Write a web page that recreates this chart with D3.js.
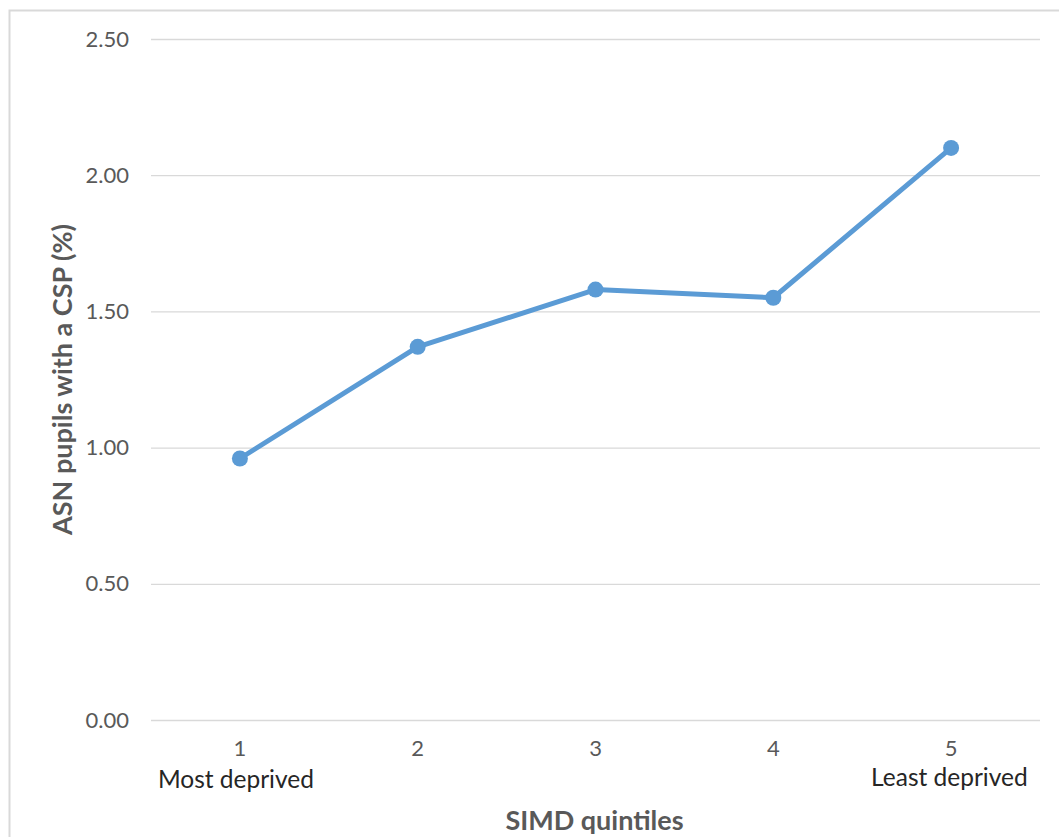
<!DOCTYPE html>
<html>
<head>
<meta charset="utf-8">
<script src="https://cdn.jsdelivr.net/npm/d3@7"></script>
<style>
  html, body { margin: 0; padding: 0; background: #fff; }
  svg { display: block; }
  text { font-family: Lato, "Open Sans", sans-serif; }
</style>
</head>
<body>
<svg id="chart" width="1059" height="837"></svg>
<script>
// Share of ASN pupils with a CSP by SIMD quintile
const quintiles = ["1", "2", "3", "4", "5"];
const cspShare = [0.96, 1.37, 1.58, 1.55, 2.10];
const yTicks = [0, 0.5, 1.0, 1.5, 2.0, 2.5];
const endLabels = ["Most deprived", "Least deprived"];

const svg = d3.select("#chart");
const W = 1059, H = 837;
const plot = { left: 151, right: 1040, top: 39, bottom: 720 };

// chart frame
svg.append("rect")
  .attr("x", 9.5).attr("y", 10.5)
  .attr("width", W + 20).attr("height", H + 20)
  .attr("fill", "#fff")
  .attr("stroke", "#d9d9d9").attr("stroke-width", 2);

const x = d3.scaleBand().domain(quintiles).range([plot.left, plot.right]);
const y = d3.scaleLinear().domain([0, 2.5]).range([plot.bottom, plot.top]);

// gridlines + y labels
const yAxis = d3.axisLeft(y)
  .tickValues(yTicks)
  .tickFormat(d3.format(".2f"))
  .tickSize(-(plot.right - plot.left))
  .tickPadding(22);
const gy = svg.append("g").attr("transform", `translate(${plot.left},0)`).call(yAxis);
gy.select(".domain").remove();
gy.selectAll(".tick line").attr("stroke", "#d9d9d9").attr("stroke-width", 1.3);
gy.selectAll(".tick text")
  .attr("fill", "#595959")
  .style("font-size", "22px");

// x category labels
const xAxis = d3.axisBottom(x).tickSize(0).tickPadding(20);
const gx = svg.append("g").attr("transform", `translate(0,${plot.bottom})`).call(xAxis);
gx.select(".domain").remove();
gx.selectAll(".tick text")
  .attr("fill", "#595959")
  .style("font-size", "22px");

// end descriptors under first and last quintiles
svg.append("text")
  .attr("x", x(quintiles[0]) + x.bandwidth() / 2 - 82)
  .attr("y", 788)
  .attr("fill", "#262626")
  .style("font-size", "24.5px")
  .text(endLabels[0]);
svg.append("text")
  .attr("x", x(quintiles[4]) + x.bandwidth() / 2 - 80)
  .attr("y", 786)
  .attr("fill", "#262626")
  .style("font-size", "24.5px")
  .text(endLabels[1]);

// axis titles
svg.append("text")
  .attr("x", (plot.left + plot.right) / 2 - 1)
  .attr("y", 830)
  .attr("text-anchor", "middle")
  .attr("fill", "#595959")
  .style("font-size", "27px")
  .style("font-weight", "bold")
  .text("SIMD quintiles");
svg.append("text")
  .attr("transform", `translate(72,${(plot.top + plot.bottom) / 2}) rotate(-90)`)
  .attr("text-anchor", "middle")
  .attr("fill", "#595959")
  .style("font-size", "27px")
  .style("font-weight", "bold")
  .text("ASN pupils with a CSP (%)");

// series line and markers
const cx = d => x(d.q) + x.bandwidth() / 2;
const data = quintiles.map((q, i) => ({ q, v: cspShare[i] }));
svg.append("path")
  .datum(data)
  .attr("fill", "none")
  .attr("stroke", "#5b9bd5")
  .attr("stroke-width", 5)
  .attr("stroke-linejoin", "round")
  .attr("d", d3.line().x(cx).y(d => y(d.v)));
svg.append("g").selectAll("circle")
  .data(data)
  .join("circle")
  .attr("cx", cx)
  .attr("cy", d => y(d.v))
  .attr("r", 8)
  .attr("fill", "#5b9bd5");
</script>
</body>
</html>
